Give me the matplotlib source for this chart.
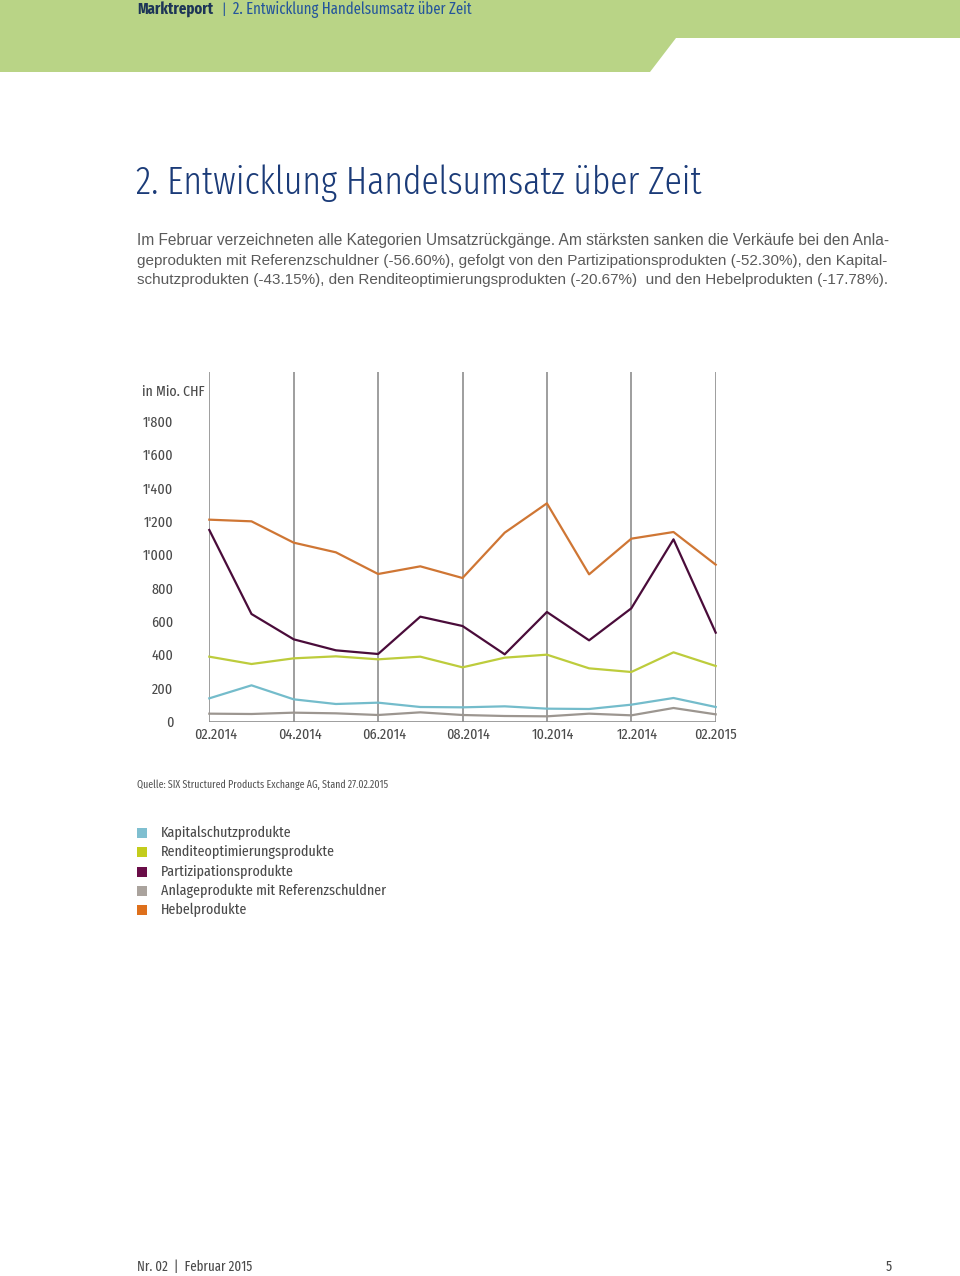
import matplotlib
matplotlib.use('Agg')
import matplotlib.pyplot as plt
from matplotlib.patches import Polygon, Rectangle
from matplotlib.transforms import ScaledTranslation
from matplotlib.font_manager import FontProperties
import matplotlib.font_manager as fm

# Daten (in Mio. CHF), Feb 2014 bis Feb 2015
months = ['02.2014', '03.2014', '04.2014', '05.2014', '06.2014', '07.2014', '08.2014',
          '09.2014', '10.2014', '11.2014', '12.2014', '01.2015', '02.2015']
kapitalschutz = [139, 217, 133, 105, 113, 87, 85, 91, 77, 75, 101, 141, 87]
rendite = [389, 345, 379, 391, 373, 389, 325, 383, 401, 319, 297, 415, 333]
partizipation = [1149, 645, 493, 427, 405, 629, 573, 403, 657, 487, 679, 1093, 533]
anlage = [47, 45, 53, 49, 39, 55, 39, 33, 31, 47, 37, 81, 43]
hebel = [1211, 1201, 1073, 1015, 885, 931, 861, 1133, 1309, 883, 1097, 1137, 941]

yticks = [0, 200, 400, 600, 800, 1000, 1200, 1400, 1600, 1800]
ylabels = ['0', '200', '400', '600', '800', "1'000", "1'200", "1'400", "1'600", "1'800"]

legend_names = ['Kapitalschutzprodukte', 'Renditeoptimierungsprodukte', 'Partizipationsprodukte',
                'Anlageprodukte mit Referenzschuldner', 'Hebelprodukte']
legend_colors = ['#7fbfd0', '#c3cc1c', '#6a0d48', '#aaa39d', '#de701c']

# moeglichst schmale, aufrechte Schrift suchen, sonst DejaVu Sans
upright = [f for f in fm.fontManager.ttflist if f.style == 'normal']


def rank(f):
    n = f.name + ' ' + f.fname
    if 'ExtraCondensed' in n or 'Extra Condensed' in n:
        return 0
    if 'SemiCondensed' in n or 'Semi Condensed' in n or 'SemiCondensed' in str(f.stretch):
        return 3
    if 'Condensed' in n or 'condensed' in str(f.stretch):
        return 1
    if 'Narrow' in n:
        return 2
    return 9


cond = sorted([f for f in upright if rank(f) < 9], key=rank)
cond_path = None
cond_bold = None
cond_light = None
for f in cond:
    if f.weight in (400, 'normal', 'regular'):
        cond_path = f.fname
        cond_name = f.name
        cond_rank = rank(f)
        break
if cond_path is not None:
    for f in cond:
        if f.name == cond_name and rank(f) == cond_rank and f.weight in (700, 'bold', 600, 'semibold'):
            cond_bold = f.fname
            break
    for f in cond:
        if f.name == cond_name and rank(f) == cond_rank and f.weight in (300, 'light'):
            cond_light = f.fname
            break


def cf(size, bold=False, light=False):
    if bold and cond_bold:
        return FontProperties(fname=cond_bold, size=size)
    if light and cond_light:
        return FontProperties(fname=cond_light, size=size)
    if cond_path and not bold:
        return FontProperties(fname=cond_path, size=size)
    return FontProperties(family='DejaVu Sans', size=size, weight='bold' if bold else 'normal')


W, H = 960, 1276
fig = plt.figure(figsize=(W / 100, H / 100), dpi=100)
renderer = fig.canvas.get_renderer()


def px(x, y):
    return x / W, 1 - y / H


def put(x, y, s, size, x_end=None, fp=None, **kw):
    t = fig.text(*px(x, y), s, fontproperties=fp if fp is not None else cf(size), va='center', **kw)
    t.set_fontsize(size)
    if x_end is not None:
        w = t.get_window_extent(renderer).width
        t.set_fontsize(size * (x_end - x) / w)
    return t


# Kopfband
band = Polygon([px(0, 0), px(960, 0), px(960, 38), px(676, 38), px(650, 72), px(0, 72)],
               closed=True, transform=fig.transFigure, color='#b9d486', lw=0)
fig.patches.append(band)
put(137, 10, 'Marktreport', 10.5, x_end=213, fp=cf(10.5, bold=True), color='#1d3557')
put(221, 10, '|', 10.5, color='#25569b')
put(233, 10, '2. Entwicklung Handelsumsatz über Zeit', 10.5, x_end=475, color='#25569b')

put(136, 183, '2. Entwicklung Handelsumsatz über Zeit', 27, x_end=702, fp=cf(27, light=True),
    color='#1b3b78')

para = ['Im Februar verzeichneten alle Kategorien Umsatzrückgänge. Am stärksten sanken die Verkäufe bei den Anla-',
        'geprodukten mit Referenzschuldner (-56.60%), gefolgt von den Partizipationsprodukten (-52.30%), den Kapital-',
        'schutzprodukten (-43.15%), den Renditeoptimierungsprodukten (-20.67%)  und den Hebelprodukten (-17.78%).']
para_end = [892, 892, 891]
for i, line in enumerate(para):
    put(137, 241 + i * 19.5, line, 10.8, x_end=para_end[i],
        fp=FontProperties(family=['Liberation Sans', 'DejaVu Sans'], size=10.8), color='#5a5a5a')

# Diagramm
ax = fig.add_axes([209.3 / W, 1 - 721.5 / H, (715.7 - 209.3) / W, (721.5 - 371.7) / H])
ax.set_xlim(0, 12)
ax.set_ylim(0, (721.5 - 371.7) * 6)
for s in ax.spines.values():
    s.set_visible(False)
x = list(range(len(months)))
for xv in x[::2]:
    ax.axvline(xv, color='#8e8e8e', lw=1.2, zorder=1)
ax.axhline(0, color='#8e8e8e', lw=1.2, zorder=1)

ax.plot(x, anlage, color='#9c9690', lw=1.6, zorder=3, clip_on=False)
ax.plot(x, kapitalschutz, color='#74bccb', lw=1.6, zorder=3, clip_on=False)
ax.plot(x, rendite, color='#bdcc3c', lw=1.6, zorder=3, clip_on=False)
ax.plot(x, partizipation, color='#4a0c3a', lw=1.6, zorder=3, clip_on=False)
ax.plot(x, hebel, color='#cf7634', lw=1.6, zorder=3, clip_on=False)

ax.set_yticks(yticks)
ax.set_yticklabels(ylabels)
ax.set_xticks(x[::2])
ax.set_xticklabels(months[::2])
ax.patch.set_alpha(0)

# Schriftgroesse der Achsenbeschriftung an Breite "02.2014" ~ 43px anpassen
probe = fig.text(0, 0, '02.2014', fontproperties=cf(11))
tick_size = 11 * 43 / probe.get_window_extent(renderer).width
probe.remove()
for lab in ax.get_xticklabels() + ax.get_yticklabels():
    lab.set_fontproperties(cf(tick_size))
    lab.set_color('#4a4a4a')
ax.tick_params(axis='y', length=0, pad=26)
ax.tick_params(axis='x', length=0, pad=4.5)
for lab in ax.get_xticklabels()[:-1]:
    lab.set_transform(lab.get_transform() + ScaledTranslation(0.06, 0, fig.dpi_scale_trans))

put(142, 392, 'in Mio. CHF', tick_size, x_end=205, color='#4a4a4a')
put(137, 785, 'Quelle: SIX Structured Products Exchange AG, Stand 27.02.2015', 7.2, x_end=388,
    color='#555555')

# Legende
probe = fig.text(0, 0, legend_names[3], fontproperties=cf(10.5))
leg_size = 10.5 * (388 - 161) / probe.get_window_extent(renderer).width
probe.remove()
for i, (nm, c) in enumerate(zip(legend_names, legend_colors)):
    yy = 833 + i * 19.3
    fig.patches.append(Rectangle(px(137, yy + 5), 10 / W, 10 / H, transform=fig.transFigure,
                                 color=c, lw=0))
    put(161, yy, nm, leg_size, color='#4a4a4a')

put(137, 1267, 'Nr. 02  |  Februar 2015', 9.5, x_end=252, color='#4a4a4a')
put(892, 1267, '5', leg_size * 0.95, color='#4a4a4a', ha='right')

fig.savefig('out.png', dpi=100)
